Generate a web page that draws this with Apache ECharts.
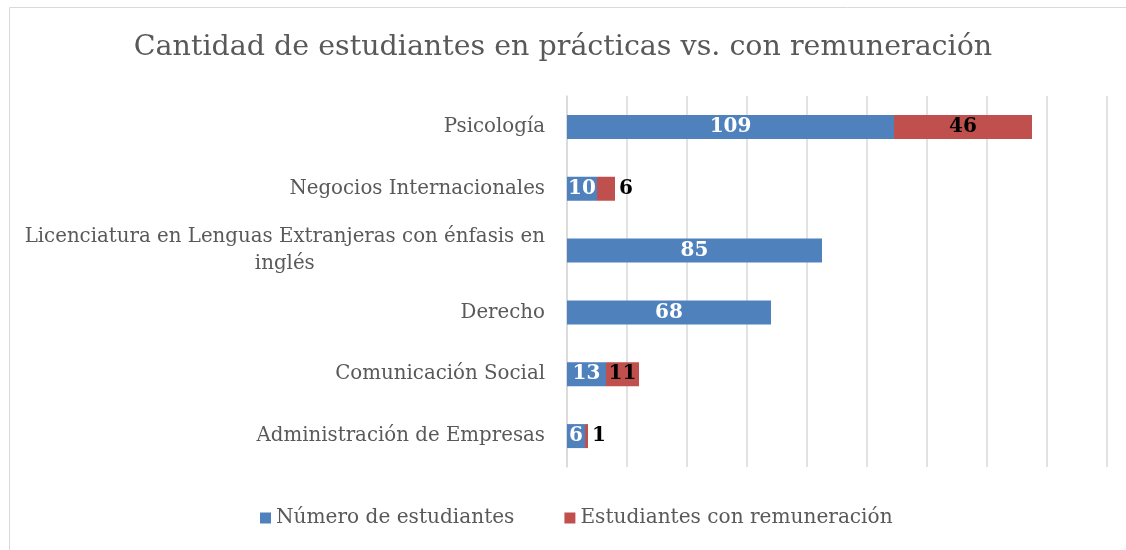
<!DOCTYPE html>
<html>
<head>
<meta charset="utf-8">
<script src="https://cdn.jsdelivr.net/npm/echarts@6/dist/echarts.min.js"></script>
<style>
  html, body { margin: 0; padding: 0; background: #fff; }
  #chart { width: 1126px; height: 550px; }
</style>
</head>
<body>
<div id="chart"></div>
<script>
// categories, bottom to top (as the axis draws them)
var carreras = [
    'Administración de Empresas',
    'Comunicación Social',
    'Derecho',
    'Licenciatura en Lenguas Extranjeras con énfasis en inglés',
    'Negocios Internacionales',
    'Psicología'
];
var numeroEstudiantes = [6, 13, 68, 85, 10, 109];
var conRemuneracion = [1, 11, null, null, 6, 46];

var FONT = '"DejaVu Serif", serif';

// small red segments get their label outside the bar
var redData = conRemuneracion.map(function (v) {
    if (v !== null && v < 8) {
        return { value: v, label: { position: 'right', distance: 4 } };
    }
    return v;
});

var chart = echarts.init(document.getElementById('chart'));

var option = {
    backgroundColor: '#fff',
    animation: false,
    graphic: [{
        type: 'rect',
        shape: { x: 9.5, y: 7.5, width: 1130, height: 560 },
        style: { fill: 'none', stroke: '#d9d9d9', lineWidth: 1 }
    }],
    title: {
        text: 'Cantidad de estudiantes en prácticas vs. con remuneración',
        left: 'center',
        top: 28,
        textStyle: { fontFamily: FONT, fontSize: 28.5, fontWeight: 'normal', color: '#595959' }
    },
    legend: {
        bottom: 17,
        left: 255,
        icon: 'rect',
        itemWidth: 11,
        itemHeight: 11,
        itemGap: 50,
        textStyle: { fontFamily: FONT, fontSize: 20.1, color: '#595959' },
        data: ['Número de estudiantes', 'Estudiantes con remuneración']
    },
    grid: { left: 567, right: 19, top: 96, bottom: 83 },
    xAxis: {
        type: 'value',
        min: 0,
        max: 180,
        interval: 20,
        axisLabel: { show: false },
        axisLine: { show: false },
        axisTick: { show: false },
        splitLine: { lineStyle: { color: '#d9d9d9', width: 1.5 } }
    },
    yAxis: {
        type: 'category',
        data: carreras,
        axisLine: { show: true, lineStyle: { color: '#d9d9d9', width: 1.5 } },
        axisTick: { show: false },
        axisLabel: {
            margin: 22,
            fontFamily: FONT,
            fontSize: 19.8,
            color: '#595959',
            lineHeight: 27,
            formatter: function (name) {
                if (name.length > 45) {
                    var i = name.lastIndexOf(' ');
                    return '{c|' + name.slice(0, i) + '}\n{c|' + name.slice(i + 1) + '}';
                }
                return name;
            },
            rich: {
                c: { align: 'center', fontFamily: FONT, fontSize: 19.8, color: '#595959', lineHeight: 27 }
            }
        }
    },
    series: [
        {
            name: 'Número de estudiantes',
            type: 'bar',
            stack: 'total',
            barWidth: 24,
            itemStyle: { color: '#4F81BD' },
            label: {
                show: true,
                position: 'inside',
                fontFamily: FONT,
                fontSize: 20,
                fontWeight: 'bold',
                color: '#fff'
            },
            data: numeroEstudiantes
        },
        {
            name: 'Estudiantes con remuneración',
            type: 'bar',
            stack: 'total',
            barWidth: 24,
            itemStyle: { color: '#C0504D' },
            label: {
                show: true,
                position: 'inside',
                fontFamily: FONT,
                fontSize: 20,
                fontWeight: 'bold',
                color: '#000'
            },
            data: redData
        }
    ]
};

chart.setOption(option);
</script>
</body>
</html>
